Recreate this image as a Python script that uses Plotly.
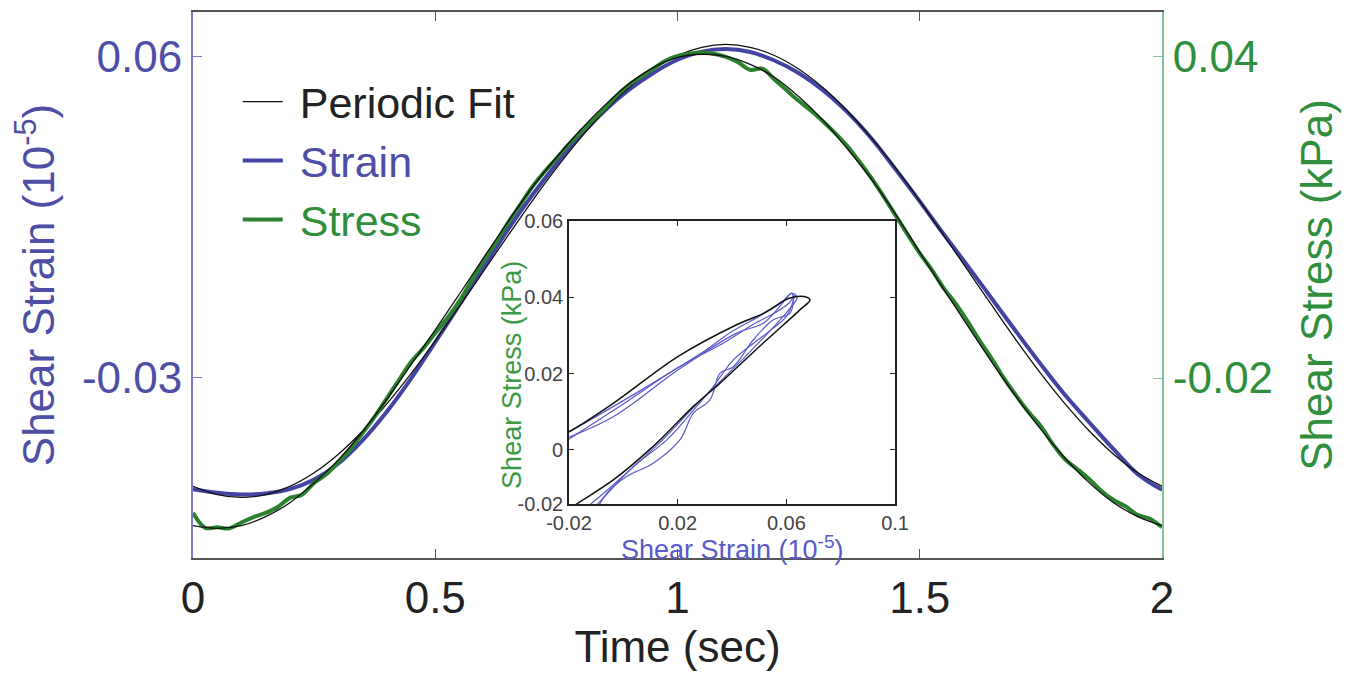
import plotly.graph_objects as go

FONT = "Liberation Sans, Arial, Helvetica, sans-serif"
BLUE_TXT = "#4e4ea6"
GREEN_TXT = "#2f8f3c"
BLUE_LINE = "#4343a3"
GREEN_LINE = "#2a812e"

# ---------------- main panel data ----------------
time = [0.0, 0.05, 0.1, 0.15, 0.2, 0.25, 0.3, 0.35, 0.4, 0.45, 0.5, 0.55, 0.6, 0.65, 0.7,
        0.75, 0.8, 0.85, 0.9, 0.95, 1.0, 1.05, 1.1, 1.15, 1.2, 1.25, 1.3, 1.35, 1.4, 1.45,
        1.5, 1.55, 1.6, 1.65, 1.7, 1.75, 1.8, 1.85, 1.9, 1.95, 2.0]

strain = [-0.0612, -0.0622, -0.0627, -0.0624, -0.0612, -0.0585, -0.0540, -0.0475, -0.0395,
          -0.0302, -0.0200, -0.0095, 0.0010, 0.0116, 0.0212, 0.0300, 0.0380, 0.0450, 0.0508,
          0.0555, 0.0592, 0.0615, 0.0622, 0.0614, 0.0590, 0.0555, 0.0507, 0.0446, 0.0372,
          0.0285, 0.0195, 0.0102, 0.0012, -0.0080, -0.0172, -0.0262, -0.0348, -0.0425,
          -0.0500, -0.0570, -0.0614]

strain_fit = [-0.0604, -0.0627, -0.0635, -0.0627, -0.0604, -0.0566, -0.0514, -0.0449, -0.0373,
              -0.0288, -0.0196, -0.0099, 0.0000, 0.0099, 0.0196, 0.0288, 0.0373, 0.0449, 0.0514,
              0.0566, 0.0604, 0.0627, 0.0635, 0.0627, 0.0604, 0.0566, 0.0514, 0.0449, 0.0373,
              0.0288, 0.0196, 0.0099, 0.0000, -0.0099, -0.0196, -0.0288, -0.0373, -0.0449,
              -0.0514, -0.0566, -0.0604]

stress_fit = [-0.0476, -0.0481, -0.0476, -0.0459, -0.0433, -0.0396, -0.0353, -0.0300, -0.0240,
              -0.0175, -0.0110, -0.0043, 0.0025, 0.0092, 0.0156, 0.0212, 0.0264, 0.0310, 0.0350,
              0.0380, 0.0399, 0.0405, 0.0401, 0.0386, 0.0362, 0.0326, 0.0282, 0.0229, 0.0172,
              0.0106, 0.0035, -0.0035, -0.0104, -0.0172, -0.0236, -0.0296, -0.0350, -0.0396,
              -0.0433, -0.0459, -0.0476]

time_fine = [0.0, 0.025, 0.05, 0.075, 0.1, 0.125, 0.15, 0.175, 0.2, 0.225, 0.25, 0.275, 0.3,
             0.325, 0.35, 0.375, 0.4, 0.425, 0.45, 0.475, 0.5, 0.525, 0.55, 0.575, 0.6, 0.625,
             0.65, 0.675, 0.7, 0.725, 0.75, 0.775, 0.8, 0.825, 0.85, 0.875, 0.9, 0.925, 0.95,
             0.975, 1.0, 1.025, 1.05, 1.075, 1.1, 1.125, 1.15, 1.175, 1.2, 1.225, 1.25, 1.275,
             1.3, 1.325, 1.35, 1.375, 1.4, 1.425, 1.45, 1.475, 1.5, 1.525, 1.55, 1.575, 1.6,
             1.625, 1.65, 1.675, 1.7, 1.725, 1.75, 1.775, 1.8, 1.825, 1.85, 1.875, 1.9, 1.925,
             1.95, 1.975, 2.0]

stress = [-0.0452, -0.0480, -0.0479, -0.0481, -0.0470, -0.0460, -0.0452, -0.0441, -0.0424,
          -0.0418, -0.0396, -0.0380, -0.0357, -0.0333, -0.0303, -0.0272, -0.0238, -0.0204,
          -0.0170, -0.0145, -0.0116, -0.0088, -0.0056, -0.0018, 0.0019, 0.0053, 0.0090,
          0.0123, 0.0157, 0.0185, 0.0210, 0.0236, 0.0259, 0.0282, 0.0304, 0.0328, 0.0348,
          0.0363, 0.0378, 0.0393, 0.0402, 0.0406, 0.0409, 0.0406, 0.0400, 0.0390, 0.0376,
          0.0378, 0.0358, 0.0338, 0.0318, 0.0300, 0.0280, 0.0258, 0.0234, 0.0205, 0.0174,
          0.0140, 0.0104, 0.0068, 0.0033, 0.0002, -0.0033, -0.0062, -0.0096, -0.0132, -0.0166,
          -0.0202, -0.0234, -0.0264, -0.0290, -0.0324, -0.0352, -0.0370, -0.0389, -0.0411,
          -0.0428, -0.0440, -0.0456, -0.0463, -0.0479]

# ---------------- inset (hysteresis loop) data ----------------
loop_fit_strain = [-0.024, -0.0199, -0.0037, 0.0202, 0.0417, 0.0515, 0.0613, 0.0665, 0.0687,
                   0.0650, 0.0515, 0.0356, 0.0258, 0.0110, -0.0037, -0.0172, -0.0240]
loop_fit_stress = [0.0035, 0.0048, 0.0122, 0.0245, 0.0328, 0.0358, 0.0398, 0.0402, 0.0393,
                   0.0367, 0.0280, 0.0175, 0.0114, 0.0009, -0.0079, -0.0142, -0.0175]

loop1_strain = [-0.0100, -0.0061, 0.0012, 0.0110, 0.0208, 0.0258, 0.0319, 0.0356, 0.0405, 0.0478,
                0.0552, 0.0613, 0.0625, 0.0619, 0.0576, 0.0515, 0.0417, 0.0202, -0.0037, -0.0240]
loop1_stress = [-0.0160, -0.0114, -0.0070, -0.0035, 0.0026, 0.0096, 0.0131, 0.0201, 0.0218,
                0.0288, 0.0341, 0.0358, 0.0395, 0.0411, 0.0376, 0.0332, 0.0306, 0.0210, 0.0087,
                0.0022]

loop2_strain = [-0.0125, -0.0080, 0.0037, 0.0160, 0.0270, 0.0331, 0.0405, 0.0528, 0.0600, 0.0630,
                0.0610, 0.0560, 0.0480, 0.0380, 0.0200, 0.0000, -0.0240]
loop2_stress = [-0.0165, -0.0131, -0.0044, 0.0026, 0.0114, 0.0166, 0.0236, 0.0306, 0.0350,
                0.0405, 0.0385, 0.0360, 0.0330, 0.0285, 0.0215, 0.0120, 0.0010]

loop3_strain = [-0.0150, -0.0050, 0.0060, 0.0150, 0.0250, 0.0350, 0.0450, 0.0550, 0.0600, 0.0640,
                0.0620, 0.0580, 0.0500, 0.0400, 0.0300, 0.0200, 0.0050, -0.0240]
loop3_stress = [-0.0160, -0.0100, -0.0030, 0.0030, 0.0105, 0.0175, 0.0245, 0.0320, 0.0360,
                0.0400, 0.0410, 0.0385, 0.0350, 0.0310, 0.0260, 0.0215, 0.0150, 0.0030]

x_ticks = [0, 0.5, 1, 1.5, 2]
strain_ticks = [-0.03, 0.06]
stress_ticks = [-0.02, 0.04]
inset_x_ticks = [-0.02, 0.02, 0.06, 0.1]
inset_x_labels = ["-0.02", "0.02", "0.06", "0.1"]
inset_y_ticks = [-0.0142, 0, 0.02, 0.04, 0.06]
inset_y_labels = ["-0.02", "0", "0.02", "0.04", "0.06"]

NB = "\u00a0"

fig = go.Figure()

fig.add_trace(go.Scatter(x=time, y=strain, mode="lines",
                         name="<span style='color:%s'>%sStrain</span>" % (BLUE_TXT, NB),
                         line=dict(color=BLUE_LINE, width=4, shape="spline"), xaxis="x", yaxis="y",
                         legendrank=2))
fig.add_trace(go.Scatter(x=time_fine, y=stress, mode="lines",
                         name="<span style='color:%s'>%sStress</span>" % (GREEN_TXT, NB),
                         line=dict(color=GREEN_LINE, width=4, shape="spline"), xaxis="x", yaxis="y2",
                         legendrank=3))
fig.add_trace(go.Scatter(x=time, y=strain_fit, mode="lines", name=NB + "Periodic Fit",
                         line=dict(color="#111111", width=1.3, shape="spline"), xaxis="x", yaxis="y",
                         legendrank=1))
fig.add_trace(go.Scatter(x=time, y=stress_fit, mode="lines", showlegend=False,
                         line=dict(color="#111111", width=1.3, shape="spline"), xaxis="x", yaxis="y2"))

# inset traces
for xs, ys in [(loop1_strain, loop1_stress), (loop2_strain, loop2_stress), (loop3_strain, loop3_stress)]:
    fig.add_trace(go.Scatter(x=xs, y=ys, mode="lines", showlegend=False,
                             line=dict(color="#5a5ac8", width=1.2, shape="spline"),
                             xaxis="x3", yaxis="y3"))
fig.add_trace(go.Scatter(x=loop_fit_strain, y=loop_fit_stress, mode="lines", showlegend=False,
                         line=dict(color="#111111", width=1.5, shape="spline"),
                         xaxis="x3", yaxis="y3"))

fig.update_layout(
    width=1348, height=665,
    margin=dict(l=185, r=194, t=4, b=115),
    paper_bgcolor="white", plot_bgcolor="white",
    font=dict(family=FONT, size=44, color="#222222"),
    showlegend=True,
    legend=dict(x=0.0462, y=0.899, xanchor="left", yanchor="top", bgcolor="rgba(0,0,0,0)",
                font=dict(size=43, color="#222222", family=FONT), itemwidth=40,
                tracegroupgap=0),
    xaxis=dict(domain=[0, 1], range=[0, 2], tickvals=x_ticks, ticktext=["0", "0.5", "1", "1.5", "2"],
               showline=True, linecolor="#555555", linewidth=2, mirror="ticks", automargin=False,
               ticks="inside", ticklen=9, tickcolor="#555555", showgrid=False, zeroline=False,
               tickfont=dict(size=44, color="#222222"),
               title=dict(text="Time (sec)", font=dict(size=44, color="#222222"), standoff=6)),
    yaxis=dict(domain=[0, 1], range=[-0.0805, 0.0726], tickvals=strain_ticks, ticktext=["-0.03", "0.06"],
               showline=True, linecolor="#7a7ac0", linewidth=2, ticks="inside", ticklen=9,
               tickcolor="#7a7ac0", showgrid=False, zeroline=False, automargin=False,
               tickfont=dict(size=44, color=BLUE_TXT),
               title=dict(text="Shear Strain (10<sup>-5</sup>)", font=dict(size=44, color=BLUE_TXT), standoff=36)),
    yaxis2=dict(overlaying="y", side="right", anchor="x", range=[-0.05364, 0.0484], tickvals=stress_ticks,
                ticktext=["-0.02", "0.04"], automargin=False,
                showline=True, linecolor="#86c493", linewidth=2, ticks="inside", ticklen=9,
                tickcolor="#86c493", showgrid=False, zeroline=False,
                tickfont=dict(size=44, color=GREEN_TXT),
                title=dict(text="Shear Stress (kPa)", font=dict(size=44, color=GREEN_TXT), standoff=29)),
    xaxis3=dict(domain=[0.388, 0.7245], anchor="y3", range=[-0.02, 0.1], tickvals=inset_x_ticks,
                ticktext=inset_x_labels, showline=True, linecolor="#222222", linewidth=1.6,
                mirror="ticks", ticks="inside", ticklen=5, tickcolor="#222222", showgrid=False,
                zeroline=False, automargin=False, tickfont=dict(size=20, color="#444444")),
    yaxis3=dict(domain=[0.0989, 0.6172], anchor="x3", range=[-0.0142, 0.06], tickvals=inset_y_ticks,
                ticktext=inset_y_labels, showline=True, linecolor="#222222", linewidth=1.6,
                mirror="ticks", ticks="inside", ticklen=5, tickcolor="#222222", showgrid=False,
                zeroline=False, automargin=False, tickfont=dict(size=20, color="#444444")),
    annotations=[
        dict(text="Shear Strain (10<sup>-5</sup>)", xref="paper", yref="paper",
             x=(0.388 + 0.7245) / 2, y=0.019, xanchor="center", yanchor="middle",
             showarrow=False, font=dict(size=27, color="#5a5ac8", family=FONT)),
        dict(text="Shear Stress (kPa)", xref="paper", yref="paper", textangle=-90,
             x=0.329, y=0.335, xanchor="center", yanchor="middle",
             showarrow=False, font=dict(size=27, color="#3b9a45", family=FONT)),
    ],
)

fig.write_html("out.html")
